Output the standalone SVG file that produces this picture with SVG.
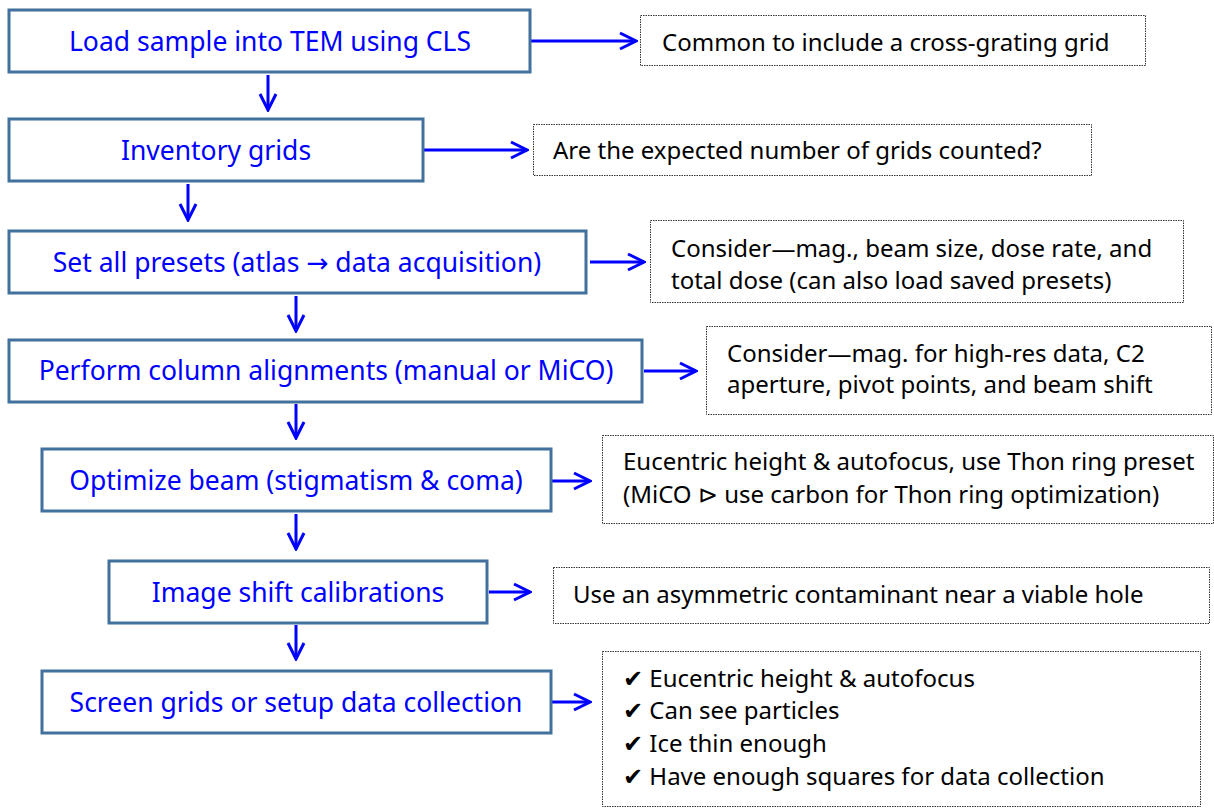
<svg xmlns="http://www.w3.org/2000/svg" width="1214" height="808" viewBox="0 0 1214 808">
<defs>
<style>
.step{fill:#fff;stroke:#41719c;stroke-width:3}
.note{fill:#fff;stroke:#333;stroke-width:1;stroke-dasharray:1.5 1}
.st{font-family:"Noto Sans","Open Sans","DejaVu Sans",sans-serif;font-size:26.5px;fill:#0000ff;text-anchor:middle}
.nt{font-family:"Noto Sans","Open Sans","DejaVu Sans",sans-serif;font-size:24px;fill:#000}
.c{stroke:#0000ff;stroke-width:3;fill:none}
</style>
<marker id="ah" markerUnits="userSpaceOnUse" viewBox="0 0 20 20" refX="18" refY="10" markerWidth="20" markerHeight="20" orient="auto">
<path d="M2,2 L18,10 L2,18" fill="none" stroke="#0000ff" stroke-width="3"/>
</marker>
</defs>
<rect width="1214" height="808" fill="#fff"/>
<g id="connectors">
<line class="c" x1="531" y1="41" x2="636" y2="41" marker-end="url(#ah)"/>
<line class="c" x1="268" y1="75" x2="268" y2="110" marker-end="url(#ah)"/>
<line class="c" x1="424" y1="150" x2="527" y2="150" marker-end="url(#ah)"/>
<line class="c" x1="188" y1="184" x2="188" y2="220" marker-end="url(#ah)"/>
<line class="c" x1="590" y1="262" x2="644" y2="262" marker-end="url(#ah)"/>
<line class="c" x1="296" y1="296" x2="296" y2="331" marker-end="url(#ah)"/>
<line class="c" x1="644" y1="371" x2="696" y2="371" marker-end="url(#ah)"/>
<line class="c" x1="296" y1="404" x2="296" y2="438" marker-end="url(#ah)"/>
<line class="c" x1="552" y1="481" x2="590" y2="481" marker-end="url(#ah)"/>
<line class="c" x1="296" y1="514" x2="296" y2="549" marker-end="url(#ah)"/>
<line class="c" x1="489" y1="592" x2="530" y2="592" marker-end="url(#ah)"/>
<line class="c" x1="296" y1="625" x2="296" y2="659" marker-end="url(#ah)"/>
<line class="c" x1="552" y1="702" x2="590" y2="702" marker-end="url(#ah)"/>
</g>
<g id="step1"><rect class="step" x="9" y="10" width="521" height="62"/><text class="st" x="270" y="51">Load sample into TEM using CLS</text></g>
<g id="step2"><rect class="step" x="9" y="119" width="414" height="62"/><text class="st" x="216" y="160">Inventory grids</text></g>
<g id="step3"><rect class="step" x="9" y="231" width="577" height="62"/><text class="st" x="297" y="272">Set all presets (atlas → data acquisition)</text></g>
<g id="step4"><rect class="step" x="9" y="340" width="633" height="62"/><text class="st" x="326" y="380">Perform column alignments (manual or MiCO)</text></g>
<g id="step5"><rect class="step" x="42" y="449" width="509" height="62"/><text class="st" x="296" y="490">Optimize beam (stigmatism &amp; coma)</text></g>
<g id="step6"><rect class="step" x="109" y="561" width="378" height="62"/><text class="st" x="298" y="602">Image shift calibrations</text></g>
<g id="step7"><rect class="step" x="42" y="671" width="509" height="62"/><text class="st" x="296" y="712">Screen grids or setup data collection</text></g>
<g id="note1"><rect class="note" x="640.5" y="15.5" width="505" height="50"/><text class="nt" x="662" y="51">Common to include a cross-grating grid</text></g>
<g id="note2"><rect class="note" x="533.5" y="124.5" width="558" height="51"/><text class="nt" x="553" y="159">Are the expected number of grids counted?</text></g>
<g id="note3"><rect class="note" x="650.5" y="220.5" width="533" height="82"/><text class="nt" x="671" y="257">Consider—mag., beam size, dose rate, and</text><text class="nt" x="671" y="289">total dose (can also load saved presets)</text></g>
<g id="note4"><rect class="note" x="706.5" y="326.5" width="505" height="88"/><text class="nt" x="727" y="362">Consider—mag. for high-res data, C2</text><text class="nt" x="727" y="393">aperture, pivot points, and beam shift</text></g>
<g id="note5"><rect class="note" x="602.5" y="435.5" width="611" height="88"/><text class="nt" x="623" y="470">Eucentric height &amp; autofocus, use Thon ring preset</text><text class="nt" x="623" y="503">(MiCO ⊳ use carbon for Thon ring optimization)</text></g>
<g id="note6"><rect class="note" x="553.5" y="567.5" width="656" height="56"/><text class="nt" x="573" y="603">Use an asymmetric contaminant near a viable hole</text></g>
<g id="note7"><rect class="note" x="602.5" y="651.5" width="598" height="155"/><text class="nt" x="623" y="687">✔ Eucentric height &amp; autofocus</text><text class="nt" x="623" y="719">✔ Can see particles</text><text class="nt" x="623" y="752">✔ Ice thin enough</text><text class="nt" x="623" y="785">✔ Have enough squares for data collection</text></g>
</svg>
